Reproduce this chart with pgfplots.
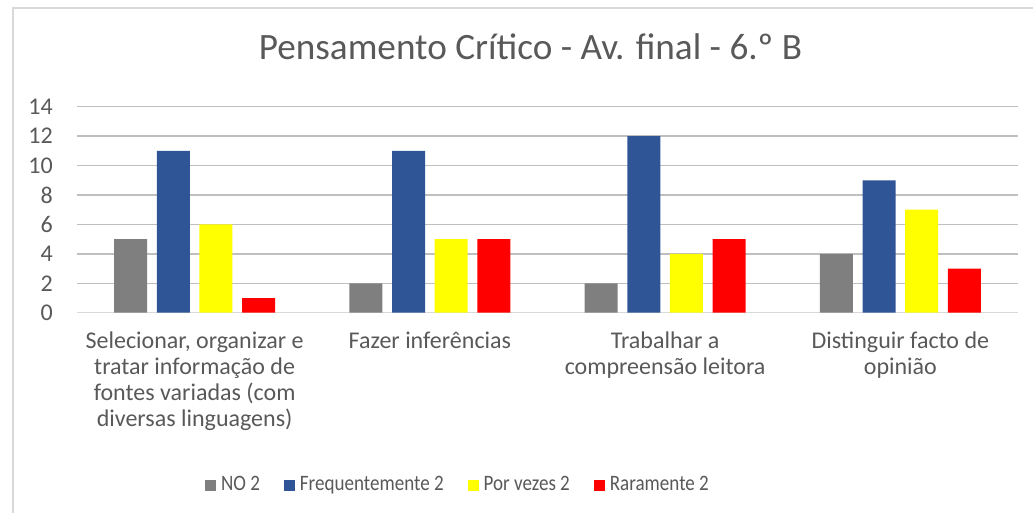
\documentclass[border=0pt]{standalone}
\usepackage{pgfplots}
\pgfplotsset{compat=1.18}
\usepackage{fontspec}
\setmainfont{Carlito}
\newfontfamily\condensed[FakeStretch=0.866]{Carlito}
\definecolor{txt}{HTML}{595959}
\definecolor{grid}{HTML}{D9D9D9}
\definecolor{cgray}{HTML}{7F7F7F}
\definecolor{cblue}{HTML}{2F5597}
\definecolor{cyellow}{HTML}{FFFF00}
\definecolor{cred}{HTML}{FF0000}
\begin{document}
\begin{tikzpicture}
\path[use as bounding box] (0pt,0pt) rectangle (774.75pt,384.75pt);
\draw[grid,line width=1pt] (9.75pt,0pt) -- (9.75pt,378.75pt) -- (774.75pt,378.75pt);
\node[anchor=base,text=txt,font=\fontsize{27.9}{32}\selectfont,inner sep=0pt] at (397.9pt,340.3pt) {Pensamento Crítico - Av. final - 6.º B};
\begin{axis}[
  at={(57.75pt,150.2pt)}, anchor=south west,
  scale only axis, width=705.75pt, height=154.5pt,
  ybar=7.25pt, bar width=24.75pt,
  xmin=-0.5, xmax=3.5, ymin=0, ymax=14,
  ytick={0,2,...,14},
  xtick={0,1,2,3},
  xticklabels={{Selecionar, organizar e\\tratar informação de\\fontes variadas (com\\diversas linguagens)},{Fazer inferências},{Trabalhar a\\compreensão leitora},{Distinguir facto de\\opinião}},
  axis lines*=left,
  y axis line style={draw=none},
  x axis line style={grid,line width=1pt},
  major tick length=0pt,
  xmajorgrids=false, ymajorgrids=true, grid style={grid,line width=1pt},
  /pgf/number format/assume math mode=true,
  yticklabel style={font=\fontsize{18}{19.5}\selectfont, text=txt, inner sep=0pt, anchor=east, xshift=-18pt},
  xticklabel style={font=\fontsize{18}{19.5}\selectfont, text=txt, inner sep=0pt, align=center, anchor=north, yshift=-14pt},
  legend columns=4,
  legend style={draw=none, at={(0.4038,-0.835)}, anchor=center, font=\condensed\fontsize{16.5}{19.5}\selectfont, text=txt, inner sep=0pt,
    /tikz/every odd column/.append style={column sep=3.75pt},
    /tikz/every even column/.append style={column sep=18pt},
    nodes={inner sep=0pt}},
  legend image code/.code={\fill[#1,draw=none] (0pt,-4.5pt) rectangle (8.25pt,3.75pt);},
]
\addplot[fill=cgray,draw=none] coordinates {(0,5) (1,2) (2,2) (3,4)};
\addplot[fill=cblue,draw=none] coordinates {(0,11) (1,11) (2,12) (3,9)};
\addplot[fill=cyellow,draw=none] coordinates {(0,6) (1,5) (2,4) (3,7)};
\addplot[fill=cred,draw=none] coordinates {(0,1) (1,5) (2,5) (3,3)};
\legend{NO 2,Frequentemente 2,Por vezes 2,Raramente 2}
\end{axis}
\end{tikzpicture}
\end{document}
